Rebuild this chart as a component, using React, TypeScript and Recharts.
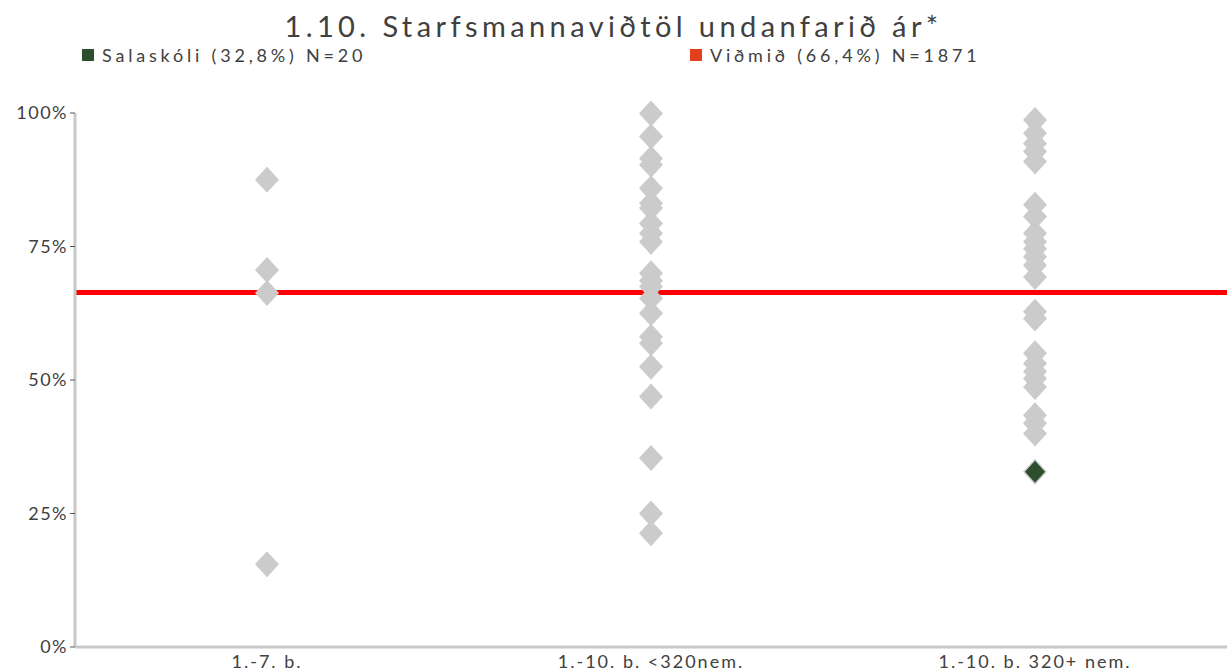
import { ScatterChart, Scatter, XAxis, YAxis, ReferenceLine } from 'recharts';

const categories = ['1.-7. b.', '1.-10. b. <320nem.', '1.-10. b. 320+ nem.'];

// other schools, per category (%)
const schools7 = [87.5, 70.6, 66.3, 15.5];
const schoolsSmall = [99.9, 95.6, 91.5, 90.3, 85.9, 83.1, 82.2, 79.3, 77.5, 75.9, 70.0, 68.6, 67.5, 65.3, 62.5, 58.1, 56.9, 52.5, 46.9, 35.4, 25.0, 21.3];
const schoolsLarge = [98.7, 96.2, 94.3, 92.8, 90.9, 82.8, 80.6, 77.5, 75.9, 74.6, 73.1, 71.5, 69.3, 62.8, 61.5, 55.0, 53.1, 51.6, 50.3, 48.7, 43.4, 41.9, 40.0, 32.8];

// Salaskóli
const schoolValue = 32.8;
const schoolCategory = 3;
const benchmark = 66.4;

const yTicks = [0, 25, 50, 75, 100];

const others = [schools7, schoolsSmall, schoolsLarge].flatMap((vals, i) =>
  vals.map((v) => ({ x: i + 1, y: v }))
);
const school = [{ x: schoolCategory, y: schoolValue }];

const fontFamily = 'Lato, "Open Sans", sans-serif';

const diamond = (w: number, h: number, fill: string) => (props: any) => {
  const { cx, cy } = props;
  return (
    <path
      d={`M${cx},${cy - h}L${cx + w},${cy}L${cx},${cy + h}L${cx - w},${cy}Z`}
      fill={fill}
    />
  );
};

const legendStyle: React.CSSProperties = {
  position: 'absolute',
  top: 46,
  fontSize: 18,
  letterSpacing: 3.8,
  color: '#404040',
  display: 'flex',
  alignItems: 'center',
  lineHeight: '18px',
};

export default function App() {
  return (
    <div style={{ position: 'absolute', left: 0, top: 0, width: 1227, height: 671, background: '#fff', fontFamily }}>
      <div style={{ position: 'absolute', top: 10, left: 0, width: 1227, textAlign: 'center', fontSize: 29, lineHeight: '32px', letterSpacing: 4.4, color: '#404040' }}>
        1.10. Starfsmannaviðtöl undanfarið ár*
      </div>
      <div style={{ ...legendStyle, left: 82 }}>
        <span style={{ display: 'inline-block', width: 12, height: 12, background: '#2E4F2E', marginRight: 8 }} />
        Salaskóli (32,8%) N=20
      </div>
      <div style={{ ...legendStyle, left: 690 }}>
        <span style={{ display: 'inline-block', width: 12, height: 12, background: '#E2401A', marginRight: 8 }} />
        Viðmið (66,4%) N=1871
      </div>
      <ScatterChart width={1227} height={671} margin={{ top: 113, right: 0, bottom: 0, left: 0 }}>
        <XAxis
          type="number"
          dataKey="x"
          domain={[0.5, 3.5]}
          ticks={[1, 2, 3]}
          tickFormatter={(v: number) => categories[v - 1]}
          axisLine={{ stroke: '#C8C8C8', strokeWidth: 3 }}
          tickLine={false}
          tick={{ fill: '#404040', fontSize: 18, letterSpacing: 2 }}
          height={24}
          interval={0}
        />
        <YAxis
          type="number"
          dataKey="y"
          domain={[0, 100]}
          ticks={yTicks}
          tickFormatter={(v: number) => `${v}%`}
          axisLine={{ stroke: '#C8C8C8', strokeWidth: 3 }}
          tickLine={{ stroke: '#595959' }}
          tickSize={5}
          tick={{ fill: '#404040', fontSize: 18, letterSpacing: 1.5 }}
          width={75}
        />
        <Scatter data={others} shape={diamond(12, 13, '#CBCBCB')} isAnimationActive={false} />
        <ReferenceLine y={benchmark} stroke="#FF0000" strokeWidth={5} />
        <Scatter data={school} shape={diamond(10, 11, '#2E4F2E')} isAnimationActive={false} />
      </ScatterChart>
    </div>
  );
}
